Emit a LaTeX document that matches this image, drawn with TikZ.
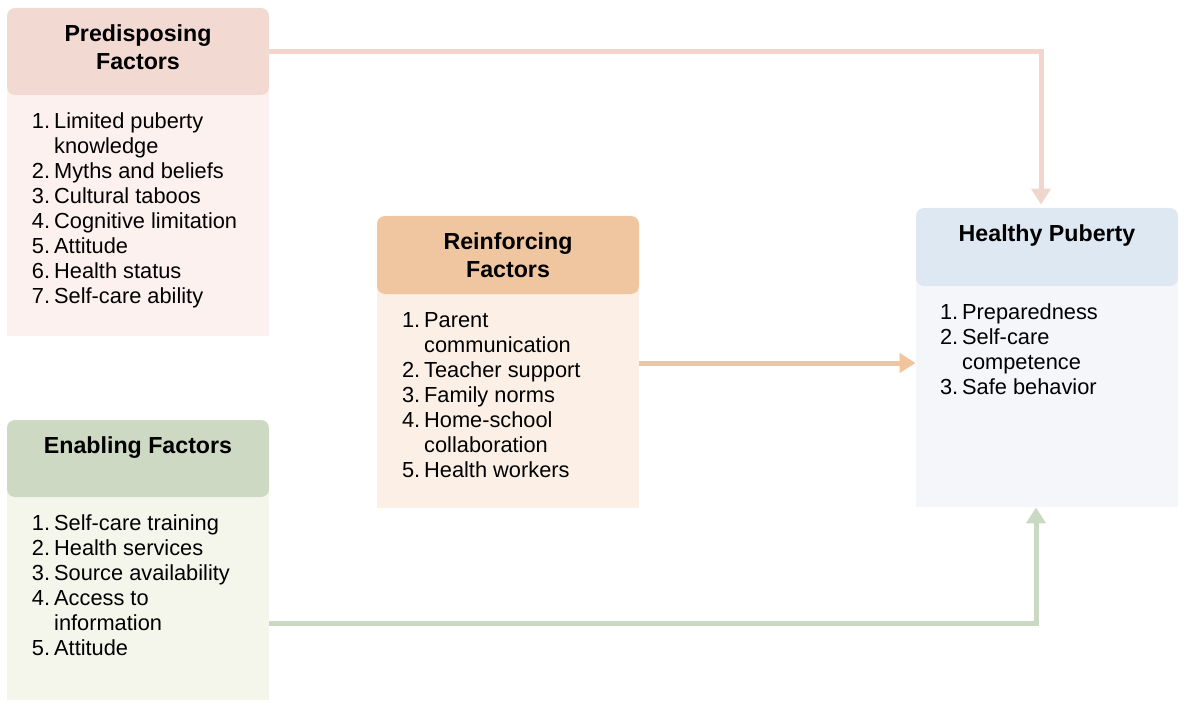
\documentclass[tikz,border=0pt]{standalone}
\usepackage{fontspec}
\setmainfont{Liberation Sans}
\usetikzlibrary{arrows.meta}
\definecolor{pinkhead}{HTML}{F2D9D2}
\definecolor{pinkbody}{HTML}{FCF1EF}
\definecolor{pinkline}{HTML}{F2D5CC}
\definecolor{orangehead}{HTML}{F0C6A0}
\definecolor{orangebody}{HTML}{FCF0E6}
\definecolor{orangeline}{HTML}{F2C49E}
\definecolor{bluehead}{HTML}{DEE8F2}
\definecolor{bluebody}{HTML}{F4F6FA}
\definecolor{greenhead}{HTML}{CDD9C2}
\definecolor{greenbody}{HTML}{F4F6EC}
\definecolor{greenline}{HTML}{CAD9C2}

\begin{document}
\begin{tikzpicture}[x=0.5pt,y=-0.5pt]
        \tikzstyle{every node}=[inner sep=0pt]
        \tikzstyle{headbox}=[rounded corners=4pt, minimum width=131pt]
        \tikzstyle{bodybox}=[minimum width=131pt]
        \tikzstyle{headtext}=[anchor=north, align=center, font=\fontsize{11.6}{14}\selectfont\bfseries]
        \tikzstyle{listtext}=[anchor=north west, font=\fontsize{10.9}{12.5}\selectfont]
        \tikzstyle{flow}=[line width=2.5pt, -{Triangle[length=8pt,width=9.5pt]}]
        \useasboundingbox (0,0) rectangle (1187,711);
        \node[bodybox, fill=pinkbody, minimum height=125.5pt] (pbody) at (138,210.5) {};
        \node[bodybox, fill=orangebody, minimum height=112pt] (rbody) at (508,396) {};
        \node[bodybox, fill=bluebody, minimum height=115.5pt] (hbody) at (1047,391.5) {};
        \node[bodybox, fill=greenbody, minimum height=106.5pt] (ebody) at (138,593.5) {};
        \node[headbox, fill=pinkhead, minimum height=43.5pt] (phead) at (138,51.5) {};
        \node[headbox, fill=orangehead, minimum height=39pt] (rhead) at (508,255) {};
        \node[headbox, fill=bluehead, minimum height=39pt] (hhead) at (1047,247) {};
        \node[headbox, fill=greenhead, minimum height=38.5pt] (ehead) at (138,458.5) {};
        \node[headtext] (ptitle) at ([yshift=-8.5pt]phead.north) {Predisposing\\Factors};
        \node[headtext] (rtitle) at ([yshift=-8.5pt]rhead.north) {Reinforcing\\Factors};
        \node[headtext] (htitle) at ([yshift=-8.5pt]hhead.north) {Healthy Puberty};
        \node[headtext] (etitle) at ([yshift=-8.5pt]ehead.north) {Enabling Factors};
        \node[listtext] (plist) at ([xshift=12.5pt,yshift=-7.5pt]phead.south west) {\begin{tabular}{@{}l@{\hspace{2pt}}l@{}}
            1.&Limited puberty\\&knowledge\\2.&Myths and beliefs\\3.&Cultural taboos\\
            4.&Cognitive limitation\\5.&Attitude\\6.&Health status\\7.&Self-care ability\end{tabular}};
        \node[listtext] (rlist) at ([xshift=12.5pt,yshift=-7.5pt]rhead.south west) {\begin{tabular}{@{}l@{\hspace{2pt}}l@{}}
            1.&Parent\\&communication\\2.&Teacher support\\3.&Family norms\\
            4.&Home-school\\&collaboration\\5.&Health workers\end{tabular}};
        \node[listtext] (hlist) at ([xshift=12pt,yshift=-7.5pt]hhead.south west) {\begin{tabular}{@{}l@{\hspace{2pt}}l@{}}
            1.&Preparedness\\2.&Self-care\\&competence\\3.&Safe behavior\end{tabular}};
        \node[listtext] (elist) at ([xshift=12.5pt,yshift=-7.5pt]ehead.south west) {\begin{tabular}{@{}l@{\hspace{2pt}}l@{}}
            1.&Self-care training\\2.&Health services\\3.&Source availability\\
            4.&Access to\\&information\\5.&Attitude\end{tabular}};
        \draw[flow, pinkline, shorten >=1.5pt] (phead.east) -| ([xshift=-3pt]hhead.north);
        \draw[flow, orangeline] ([yshift=16.5pt]rbody.east) coordinate (rout) -- (rout -| hbody.west);
        \draw[flow, greenline] ([yshift=-14.75pt]ebody.east) -| ([xshift=-5.5pt]hbody.south);
    \end{tikzpicture}
\end{document}
